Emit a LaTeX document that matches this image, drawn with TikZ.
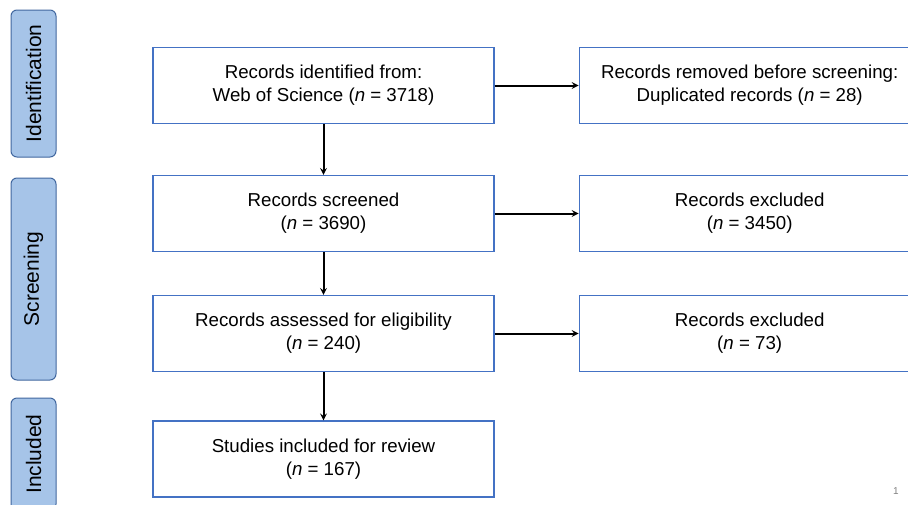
\documentclass[tikz,border=0pt]{standalone}
\usepackage{fontspec}
\setmainfont{Liberation Sans}
\usepackage{xcolor}
\usetikzlibrary{positioning, arrows}

\definecolor{boxblue}{HTML}{4472C4}
\definecolor{phasefill}{HTML}{A6C4E8}
\definecolor{phaseline}{HTML}{41679F}

\begin{document}
\begin{tikzpicture}[x=1pt, y=-1pt,
  >=stealth, % small filled heads
  font=\fontsize{18.7}{23}\selectfont,
  box/.style={draw=boxblue, line width=1.2pt, minimum width=341pt, minimum height=76pt, align=center, inner sep=0pt}, % every record box
  phase/.style={draw=phaseline, fill=phasefill, line width=1pt, rounded corners=6pt, rotate=90, minimum height=45pt, inner sep=0pt, font=\fontsize{21}{25}\selectfont}, % side labels
  flow/.style={->, line width=2pt}
]
    \useasboundingbox (0,0) rectangle (908,504);
    \clip (0,0) rectangle (908,504);

    % side labels
    \node[phase, minimum width=147pt] (ident) at (33.5,83.5) {Identification};
    \node[phase, minimum width=202pt] (scrn) at (33.5,279) {Screening};
    \node[phase, minimum width=112pt] (incl) at (33.5,454) {Included};

    % main column
    \node[box] (found) at (323.5,85.5) {Records identified from:\\Web of Science (\textit{n} = 3718)};
    \node[box] (screened) at (323.5,213.5) {Records screened\\(\textit{n} = 3690)};
    \node[box] (assessed) at (323.5,333.5) {Records assessed for eligibility\\(\textit{n} = 240)};
    \node[box] (included) at (323.5,459) {Studies included for review\\(\textit{n} = 167)};

    % side column
    \node[box, right=84pt of found] (removed) {Records removed before screening:\\Duplicated records (\textit{n} = 28)};
    \node[box, right=84pt of screened] (excl1) {Records excluded\\(\textit{n} = 3450)};
    \node[box, right=84pt of assessed] (excl2) {Records excluded\\(\textit{n} = 73)};

    \draw[flow] (found) -- (screened);
    \draw[flow] (screened) -- (assessed);
    \draw[flow] (assessed) -- (included);
    \draw[flow] (found) -- (removed);
    \draw[flow] (screened) -- (excl1);
    \draw[flow] (assessed) -- (excl2);

    \node[text=gray, font=\fontsize{10}{12}\selectfont] (page) at (896,491) {1};
\end{tikzpicture}
\end{document}
